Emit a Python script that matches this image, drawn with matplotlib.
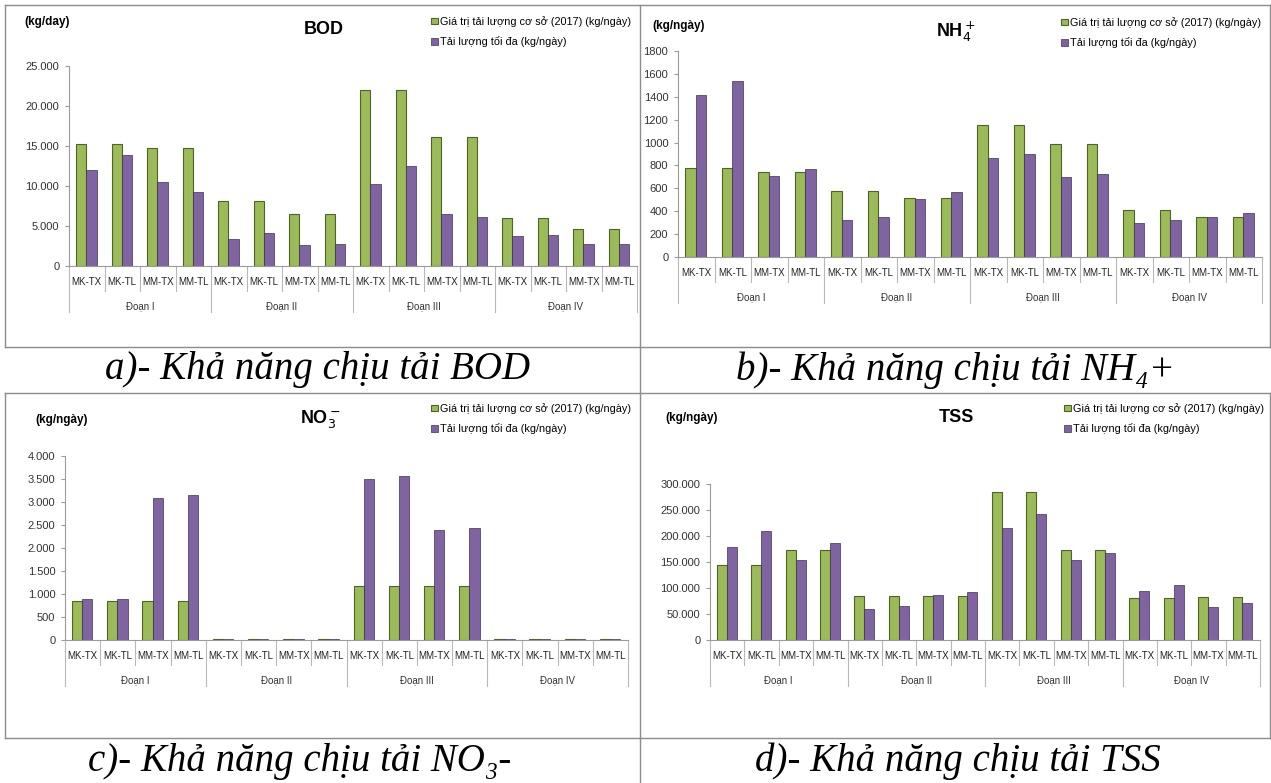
import numpy as np
import matplotlib
matplotlib.use("Agg")
import matplotlib.pyplot as plt
from matplotlib.ticker import FuncFormatter

# Kích thước hình (pixel)
W, H = 1271, 783

# Dữ liệu: tải lượng cơ sở (2017) và tải lượng tối đa, kg/ngày
vi_tri = ['MK-TX', 'MK-TL', 'MM-TX', 'MM-TL']
doan = ['Đoạn I', 'Đoạn II', 'Đoạn III', 'Đoạn IV']

bod_cs = [15300, 15300, 14700, 14700, 8070, 8070, 6550, 6550,
          22050, 22050, 16170, 16170, 6040, 6040, 4650, 4650]
bod_td = [12040, 13900, 10470, 9250, 3380, 4100, 2580, 2740,
          10300, 12540, 6460, 6080, 3760, 3890, 2790, 2740]

nh4_cs = [782, 782, 744, 744, 576, 576, 515, 515,
          1156, 1156, 991, 991, 412, 412, 350, 350]
nh4_td = [1418, 1541, 706, 768, 321, 353, 509, 565,
          862, 900, 697, 729, 297, 324, 350, 385]

no3_cs = [841, 841, 841, 841, 15, 15, 15, 15,
          1177, 1177, 1177, 1177, 15, 15, 15, 15]
no3_td = [892, 892, 3093, 3152, 15, 15, 15, 15,
          3495, 3576, 2398, 2428, 15, 15, 15, 15]

tss_cs = [145000, 145000, 173000, 173000, 84000, 84000, 84000, 84000,
          284000, 284000, 174000, 174000, 81000, 81000, 82000, 82000]
tss_td = [178000, 209000, 153000, 187000, 60000, 66000, 86000, 92000,
          215000, 243000, 153000, 168000, 94000, 106000, 64000, 72000]

nhan_cs = 'Giá trị tải lượng cơ sở (2017) (kg/ngày)'
nhan_td = 'Tải lượng tối đa (kg/ngày)'

xanh, xanh_vien = '#9BBB59', '#4F6228'
tim, tim_vien = '#8064A2', '#3F3151'
xam = '#9a9a9a'

FONT = ['Liberation Sans', 'DejaVu Sans']
SERIF = ['Liberation Serif', 'DejaVu Serif']
plt.rcParams['font.family'] = FONT


def fx(px):
    return px / W


def fy(py):
    return 1 - py / H


def dau_cham(v, pos):
    return f'{int(round(v)):,}'.replace(',', '.')


def ve_bieu_do(fig, box, cs, td, ymax, ystep, tieu_de, don_vi, title_xy,
               unit_xy, leg_xy, fmt=True):
    left, top, right, bottom = box
    ax = fig.add_axes([fx(left), fy(bottom), (right - left) / W,
                       (bottom - top) / H])
    n = len(cs)
    x = np.arange(n)
    bw = 0.29
    b1 = ax.bar(x - bw / 2 - 0.01, cs, bw, color=xanh, edgecolor=xanh_vien,
                linewidth=0.8, label=nhan_cs)
    b2 = ax.bar(x + bw / 2 - 0.01, td, bw, color=tim, edgecolor=tim_vien,
                linewidth=0.5, label=nhan_td)
    ax.set_xlim(-0.5, n - 0.5)
    ax.set_ylim(0, ymax)
    ax.set_yticks(np.arange(0, ymax + 1, ystep))
    if fmt:
        ax.yaxis.set_major_formatter(FuncFormatter(dau_cham))
    for s in ['top', 'right']:
        ax.spines[s].set_visible(False)
    for s in ['left', 'bottom']:
        ax.spines[s].set_color(xam)
        ax.spines[s].set_linewidth(0.8)
    ax.tick_params(axis='y', direction='out', length=3, color=xam,
                   labelsize=8, labelcolor='#333333', pad=4)
    ax.tick_params(axis='x', length=0, labelbottom=False)

    # Trục phân loại hai cấp: vị trí và đoạn sông
    hpx = bottom - top
    tr = ax.get_xaxis_transform()
    for i in range(n + 1):
        sau = 46 if i % 4 == 0 else 25
        ax.plot([i - 0.5, i - 0.5], [0, -sau / hpx], color='#b8b8b8',
                lw=0.8, transform=tr, clip_on=False)
    for i in range(n):
        ax.text(i, -16 / hpx, vi_tri[i % 4], transform=tr, ha='center',
                va='center', fontsize=7, color='#222222')
    for g in range(4):
        ax.text(g * 4 + 1.5, -40 / hpx, doan[g], transform=tr, ha='center',
                va='center', fontsize=7, color='#333333')

    fig.text(fx(title_xy[0]), fy(title_xy[1]), tieu_de, ha='center',
             va='center', fontsize=13, fontweight='bold')
    fig.text(fx(unit_xy[0]), fy(unit_xy[1]), don_vi, ha='left',
             va='center', fontsize=8.5, fontweight='bold')
    fig.legend([b1, b2], [nhan_cs, nhan_td], loc='upper left',
               bbox_to_anchor=(fx(leg_xy[0]), fy(leg_xy[1])),
               frameon=False, fontsize=7.8, handlelength=0.6,
               handleheight=0.6, handletextpad=0.25, labelspacing=0.85,
               borderaxespad=0, borderpad=0)
    return ax


fig = plt.figure(figsize=(W / 100, H / 100), dpi=100)

ve_bieu_do(fig, (69, 66, 637, 266), bod_cs, bod_td, 25000, 5000, 'BOD',
           '(kg/day)', (324, 30), (24, 22), (431, 16))
ve_bieu_do(fig, (678, 51, 1262, 257), nh4_cs, nh4_td, 1800, 200,
           r'NH$_4^+$', '(kg/ngày)', (956, 32), (652, 26), (1061, 17),
           fmt=False)
ve_bieu_do(fig, (65, 456, 628, 640), no3_cs, no3_td, 4000, 500,
           r'NO$_3^-$', '(kg/ngày)', (320, 419), (35, 420), (431, 403))
ve_bieu_do(fig, (710, 484, 1260, 640), tss_cs, tss_td, 300000, 50000,
           'TSS', '(kg/ngày)', (956, 417), (665, 418), (1064, 403))

# Khung bảng và chú thích
khung = '#8c8c8c'
for y in [5, 347, 393, 738]:
    fig.add_artist(plt.Line2D([fx(5), fx(1270)], [fy(y), fy(y)],
                              color=khung, lw=1))
for x in [5, 640, 1270]:
    for y0, y1 in [(5, 347), (393, 738)]:
        fig.add_artist(plt.Line2D([fx(x), fx(x)], [fy(y0), fy(y1)],
                                  color=khung, lw=1))
for y0, y1 in [(347, 393), (738, 783)]:
    fig.add_artist(plt.Line2D([fx(640), fx(640)], [fy(y0), fy(y1)],
                              color=khung, lw=1))

chu_thich = [('a)- Khả năng chịu tải BOD', 318, 370),
             ('b)- Khả năng chịu tải NH₄+', 955, 370),
             ('c)- Khả năng chịu tải NO₃-', 300, 761),
             ('d)- Khả năng chịu tải TSS', 958, 761)]
for s, x, y in chu_thich:
    fig.text(fx(x), fy(y), s, ha='center', va='center', fontsize=28,
             style='italic', family=SERIF)

fig.savefig('out.png', dpi=100)
